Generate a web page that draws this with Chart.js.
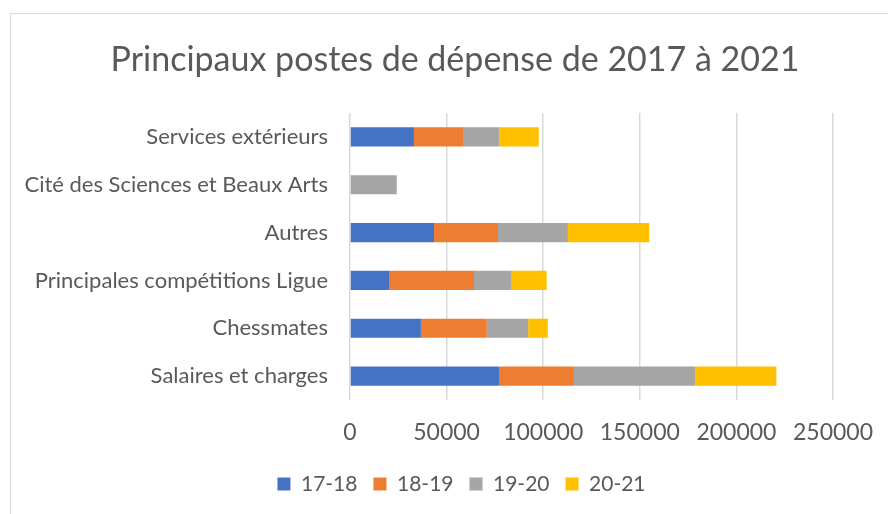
<!DOCTYPE html>
<html>
<head>
<meta charset="utf-8">
<script src="https://cdn.jsdelivr.net/npm/chart.js@4/dist/chart.umd.min.js"></script>
<style>
  html, body { margin: 0; padding: 0; background: #fff; overflow: hidden; }
  #frame {
    position: absolute; left: 10px; top: 13px; width: 900px; height: 520px;
    border: 1px solid #d9d9d9; box-sizing: border-box;
  }
  #newsChart { position: absolute; left: 0; top: 0; }
</style>
</head>
<body>
<div id="frame"></div>
<canvas id="newsChart" width="888" height="514"></canvas>
<script>
var categories = [
    "Services extérieurs",
    "Cité des Sciences et Beaux Arts",
    "Autres",
    "Principales compétitions Ligue",
    "Chessmates",
    "Salaires et charges"
];
var seriesNames = ["17-18", "18-19", "19-20", "20-21"];
var values1718 = [33100, null, 43500, 20200, 36700, 77100];
var values1819 = [25400, null, 33100, 44000, 34100, 38800];
var values1920 = [18800, 24200, 36200, 19500, 21400, 62700];
var values2021 = [20400, null, 42100, 18100, 10200, 42100];
var xTicks = [0, 50000, 100000, 150000, 200000, 250000];

var colors = ["#4472C4", "#ED7D31", "#A5A5A5", "#FFC000"];
var textColor = "#595959";
var fontName = "Lato, 'Open Sans', sans-serif";

window.addEventListener('load', drawChart);

// the left padding is only there to centre title and legend like in Excel,
// so give the y labels back the whole left strip once the layout is done
var shiftPlugin = {
    id: 'shiftPlugin',
    afterLayout: function (chart) {
        chart.scales.y.left = 0;
        chart.legend.left += 6.5;
        chart.legend.right += 6.5;
    }
};

function drawChart() {
    var ctx = document.getElementById("newsChart");
    var seriesValues = [values1718, values1819, values1920, values2021];

    var datasets = [];
    for (var i = 0; i < seriesNames.length; ++i) {
        datasets.push({
            label: seriesNames[i],
            data: seriesValues[i],
            backgroundColor: colors[i],
            borderWidth: 0,
            categoryPercentage: 1,
            barPercentage: 0.4
        });
    }

    new Chart(ctx, {
        type: 'bar',
        data: {
            labels: categories,
            datasets: datasets
        },
        plugins: [shiftPlugin],
        options: {
            indexAxis: 'y',
            responsive: false,
            animation: false,
            layout: {
                padding: { left: 77, right: 55, top: 0, bottom: 9.5 }
            },
            plugins: {
                title: {
                    display: true,
                    text: "Principaux postes de dépense de 2017 à 2021",
                    color: textColor,
                    font: { family: fontName, size: 34, weight: 'normal' },
                    padding: { top: 39.6, bottom: 32.6 }
                },
                legend: {
                    position: 'bottom',
                    labels: {
                        color: textColor,
                        font: { family: fontName, size: 21 },
                        boxWidth: 13,
                        boxHeight: 13,
                        padding: 16
                    }
                },
                tooltip: { enabled: false }
            },
            scales: {
                x: {
                    stacked: true,
                    min: 0,
                    max: 250000,
                    afterBuildTicks: function (scale) {
                        scale.ticks = xTicks.map(function (v) { return { value: v }; });
                    },
                    afterFit: function (scale) {
                        scale.height = 57.5;
                        scale.paddingLeft = 0;
                        scale.paddingRight = 0;
                    },
                    grid: {
                        color: "#d9d9d9",
                        lineWidth: 1.5,
                        drawTicks: false
                    },
                    border: { display: false },
                    ticks: {
                        color: textColor,
                        font: { family: fontName, size: 23 },
                        padding: 18.5,
                        maxRotation: 0,
                        callback: function (v) { return String(v); }
                    }
                },
                y: {
                    stacked: true,
                    grid: { display: false, drawTicks: false },
                    border: { display: false },
                    ticks: {
                        color: textColor,
                        font: { family: fontName, size: 22 },
                        padding: 22
                    },
                    afterFit: function (scale) {
                        scale.width = 273;
                    }
                }
            }
        }
    });
}
</script>
</body>
</html>
